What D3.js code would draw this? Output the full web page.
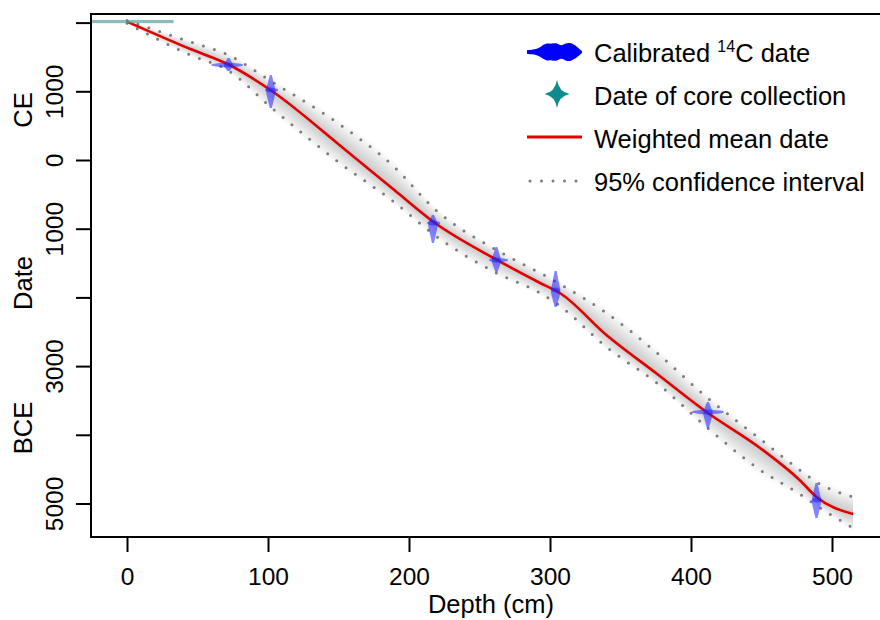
<!DOCTYPE html>
<html>
<head>
<meta charset="utf-8">
<script src="https://cdn.jsdelivr.net/npm/d3@7"></script>
<style>
  body { margin: 0; background: #fff; }
  svg text { font-family: "Liberation Sans", Arial, Helvetica, sans-serif; fill: #000; }
</style>
</head>
<body>
<div id="chart"></div>
<script>
// axis ticks
var depthTicks = [0, 100, 200, 300, 400, 500];
var yearTicks = [2000, 1000, 0, -1000, -2000, -3000, -4000, -5000];
var yearTickLabels = ["", "1000", "0", "1000", "", "3000", "", "5000"];

// age model (years CE, negative = BCE)
var modelDepth = [0, 45, 72, 102, 150, 190, 218, 262, 293, 307, 340, 376, 411, 449, 477, 489, 515];
var meanDate   = [2015, 1615, 1390, 1015, 230, -445, -910, -1450, -1790, -1936, -2547, -3115, -3668, -4192, -4658, -4905, -5153];
var upperDate  = [2030, 1718, 1528, 1150, 530, -110, -710, -1310, -1645, -1805, -2227, -2810, -3450, -4060, -4510, -4687, -4905];
var lowerDate  = [1990, 1528, 1300, 770, -30, -620, -1090, -1645, -1936, -2125, -2722, -3250, -3886, -4512, -4862, -5030, -5357];

// calibrated 14C dates
var c14Depth   = [72, 102, 217, 262, 304, 412, 489];
var c14DepthLo = [60, 98, 213, 257, 301, 401, 486];
var c14DepthHi = [82, 107, 222, 270, 307, 423, 493];
var c14Mid     = [1383, 1019, -917, -1456, -1892, -3668, -4949];
var c14Old     = [1295, 757, -1208, -1630, -2140, -3901, -5211];
var c14Young   = [1485, 1237, -800, -1266, -1616, -3523, -4702];

// date of core collection
var coreDate = 2015;
var coreDepthRange = [-40, 33];

var legendLabels = ["Calibrated", "Date of core collection", "Weighted mean date", "95% confidence interval"];

var width = 880, height = 620;
var plot = {left: 91, top: 14, right: 891, bottom: 537};

var x = d3.scaleLinear().domain([0, 500]).range([127, 832]);
var y = d3.scaleLinear().domain([0, 1000]).range([160, 91.3]);

var svg = d3.select("#chart").append("svg")
  .attr("width", width)
  .attr("height", height);

svg.append("clipPath").attr("id", "clip")
  .append("rect")
  .attr("x", plot.left).attr("y", plot.top)
  .attr("width", plot.right - plot.left).attr("height", plot.bottom - plot.top);

var g = svg.append("g").attr("clip-path", "url(#clip)");

var model = modelDepth.map(function(d, i) {
  return {depth: d, mean: meanDate[i], upper: upperDate[i], lower: lowerDate[i]};
});

// grey shading, darker towards the mean
var nBands = 18;
for (var k = nBands; k >= 1; k--) {
  var f = 1.25 * k / nBands;
  g.append("path")
    .datum(model)
    .attr("fill", "#000")
    .attr("fill-opacity", 0.012)
    .attr("d", d3.area()
      .curve(d3.curveMonotoneX)
      .x(function(d) { return x(d.depth); })
      .y0(function(d) { return y(d.mean + (d.upper - d.mean) * f); })
      .y1(function(d) { return y(d.mean + (d.lower - d.mean) * f); }));
}

// confidence interval lines
["upper", "lower"].forEach(function(key) {
  g.append("path")
    .datum(model)
    .attr("fill", "none")
    .attr("stroke", "#7c7c7c")
    .attr("stroke-width", 3)
    .attr("stroke-linecap", "round")
    .attr("stroke-dasharray", "0,11.5")
    .attr("d", d3.line()
      .curve(d3.curveMonotoneX)
      .x(function(d) { return x(d.depth); })
      .y(function(d) { return y(d[key]); }));
});

// weighted mean
g.append("path")
  .datum(model)
  .attr("fill", "none")
  .attr("stroke", "#e30000")
  .attr("stroke-width", 2.6)
  .attr("d", d3.line()
    .curve(d3.curveMonotoneX)
    .x(function(d) { return x(d.depth); })
    .y(function(d) { return y(d.mean); }));

// core collection (thin horizontal shape)
g.append("rect")
  .attr("x", x(coreDepthRange[0]))
  .attr("y", y(coreDate) - 1.6)
  .attr("width", x(coreDepthRange[1]) - x(coreDepthRange[0]))
  .attr("height", 3.2)
  .attr("fill", "#5f9c9c")
  .attr("fill-opacity", 0.7);

// violins for calibrated dates
var profile = [0, 0.3, 0.55, 0.85, 1, 0.7, 0.45, 0.25, 0];
function spread(lo, mid, hi, t) {
  return t < 0.5 ? lo + (mid - lo) * 2 * t : mid + (hi - mid) * (2 * t - 1);
}
var vArea = d3.area().curve(d3.curveBasis)
  .y(function(d) { return d.p; })
  .x0(function(d) { return d.c - d.w; })
  .x1(function(d) { return d.c + d.w; });
var hArea = d3.area().curve(d3.curveBasis)
  .x(function(d) { return d.p; })
  .y0(function(d) { return d.c - d.w; })
  .y1(function(d) { return d.c + d.w; });

c14Depth.forEach(function(dep, i) {
  var vert = profile.map(function(w, j) {
    var t = j / (profile.length - 1);
    return {p: y(spread(c14Old[i], c14Mid[i], c14Young[i], t)), c: x(dep), w: 1 + w * 4};
  });
  var hor = profile.map(function(w, j) {
    var t = j / (profile.length - 1);
    return {p: x(spread(c14DepthLo[i], dep, c14DepthHi[i], t)), c: y(c14Mid[i]), w: 1 + w * 1.6};
  });
  g.append("path").attr("d", vArea(vert)).attr("fill", "#2020ff").attr("fill-opacity", 0.55);
  g.append("path").attr("d", hArea(hor)).attr("fill", "#2020ff").attr("fill-opacity", 0.55);
});

// frame
svg.append("rect")
  .attr("x", plot.left).attr("y", plot.top)
  .attr("width", plot.right - plot.left).attr("height", plot.bottom - plot.top)
  .attr("fill", "none").attr("stroke", "#000").attr("stroke-width", 2);

// x axis
var xAxis = svg.append("g")
  .attr("transform", "translate(0," + plot.bottom + ")")
  .call(d3.axisBottom(x).tickValues(depthTicks).tickSize(15).tickSizeOuter(0));
xAxis.select(".domain").remove();
xAxis.selectAll("line").attr("stroke-width", 2);
xAxis.selectAll("text")
  .attr("y", 48).attr("dy", null)
  .style("font-size", "24.5px")
  .style("font-family", "'Liberation Sans', Arial, sans-serif");

svg.append("text")
  .attr("x", (plot.left + plot.right) / 2)
  .attr("y", 613)
  .attr("text-anchor", "middle")
  .style("font-size", "25.5px")
  .text("Depth (cm)");

// y axis
var yAxis = svg.append("g")
  .attr("transform", "translate(" + plot.left + ",0)")
  .call(d3.axisLeft(y).tickValues(yearTicks)
    .tickFormat(function(d, i) { return yearTickLabels[i]; })
    .tickSize(15).tickSizeOuter(0));
yAxis.select(".domain").remove();
yAxis.selectAll("line").attr("stroke-width", 2);
yAxis.selectAll("text")
  .attr("x", 0).attr("y", 0)
  .attr("dy", "0.36em")
  .attr("text-anchor", "middle")
  .attr("transform", "translate(-37,0) rotate(-90)")
  .style("font-size", "24.5px")
  .style("font-family", "'Liberation Sans', Arial, sans-serif");

[["CE", 110], ["Date", 283], ["BCE", 428]].forEach(function(t) {
  svg.append("text")
    .attr("transform", "translate(23," + t[1] + ") rotate(-90)")
    .attr("dy", "0.36em")
    .attr("text-anchor", "middle")
    .style("font-size", "25.5px")
    .text(t[0]);
});

// legend
var legend = svg.append("g");
var legX = 594, legY = [62, 105, 148, 191];

legendLabels.forEach(function(lab, i) {
  var t = legend.append("text")
    .attr("x", legX).attr("y", legY[i])
    .style("font-size", "25.5px");
  if (i === 0) {
    t.append("tspan").text("Calibrated ");
    t.append("tspan").attr("dy", -10).style("font-size", "16px").text("14");
    t.append("tspan").attr("dy", 10).text("C date");
  } else {
    t.text(lab);
  }
});

// legend: blue violin
var legPos = [0, 0.08, 0.18, 0.26, 0.34, 0.45, 0.55, 0.62, 0.7, 0.8, 0.9, 1];
var legWid = [0.12, 0.18, 0.25, 0.55, 0.95, 0.85, 1, 0.55, 0.95, 1, 0.6, 0];
var legViolin = legPos.map(function(p, j) {
  return {p: 527 + 55 * p, c: legY[0] - 10, w: 0.8 + legWid[j] * 8.5};
});
legend.append("path").attr("d", hArea(legViolin)).attr("fill", "#0000ff");

// legend: teal star
legend.append("path")
  .attr("transform", "translate(557," + (legY[1] - 11) + ")")
  .attr("d", "M0,-14 Q2,-2 12.5,0 Q2,2 0,14 Q-2,2 -12.5,0 Q-2,-2 0,-14Z")
  .attr("fill", "#0b8b8b");

// legend: red line
legend.append("line")
  .attr("x1", 527).attr("x2", 582)
  .attr("y1", legY[2] - 11).attr("y2", legY[2] - 11)
  .attr("stroke", "#e30000").attr("stroke-width", 3);

// legend: dotted line
legend.append("line")
  .attr("x1", 530).attr("x2", 582)
  .attr("y1", legY[3] - 10).attr("y2", legY[3] - 10)
  .attr("stroke", "#7c7c7c").attr("stroke-width", 3)
  .attr("stroke-linecap", "round")
  .attr("stroke-dasharray", "0,11.5");
</script>
</body>
</html>
